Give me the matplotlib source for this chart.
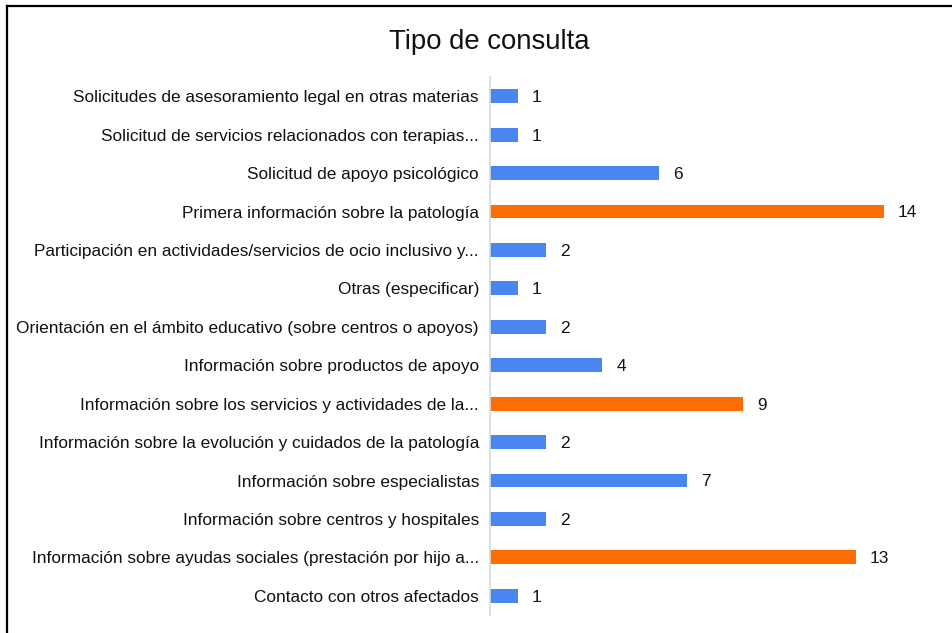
import matplotlib.pyplot as plt
from matplotlib.lines import Line2D

# Tipo de consulta - horizontal bar chart

categorias = [
    "Solicitudes de asesoramiento legal en otras materias",
    "Solicitud de servicios relacionados con terapias...",
    "Solicitud de apoyo psicológico",
    "Primera información sobre la patología",
    "Participación en actividades/servicios de ocio inclusivo y...",
    "Otras (especificar)",
    "Orientación en el ámbito educativo (sobre centros o apoyos)",
    "Información sobre productos de apoyo",
    "Información sobre los servicios y actividades de la...",
    "Información sobre la evolución y cuidados de la patología",
    "Información sobre especialistas",
    "Información sobre centros y hospitales",
    "Información sobre ayudas sociales (prestación por hijo a...",
    "Contacto con otros afectados",
]
valores = [1, 1, 6, 14, 2, 1, 2, 4, 9, 2, 7, 2, 13, 1]
destacados = [False, False, False, True, False, False, False, False, True, False, False, False, True, False]

azul = "#4a86f0"
naranja = "#ff6d00"

plt.rcParams['font.family'] = ['Liberation Sans', 'DejaVu Sans']

fig = plt.figure(figsize=(9.53, 6.33), dpi=100)
ax = fig.add_axes([490 / 953, 1 - 615 / 633, 450 / 953, (615 - 77) / 633])

pos = list(range(len(categorias)))
colores = [naranja if d else azul for d in destacados]
ax.barh(pos, valores, height=0.36, color=colores)
ax.set_ylim(len(categorias) - 0.5, -0.5)
ax.set_xlim(0, 16)

ax.set_yticks(pos)
ax.set_yticklabels(categorias, fontsize=12.4, color="#111111")
ax.tick_params(axis='y', length=0, pad=8)
ax.set_xticks([])

for s in ['top', 'right', 'bottom']:
    ax.spines[s].set_visible(False)
ax.spines['left'].set_color("#d9d9d9")
ax.spines['left'].set_linewidth(1.2)

for p, v in zip(pos, valores):
    ax.annotate(str(v), (v, p), xytext=(10, -1), textcoords='offset points',
                va='center', ha='left', fontsize=12.4, color="#111111")

fig.text(489 / 953, 1 - 42 / 633, "Tipo de consulta", ha='center', va='center',
         fontsize=19.8, color="#111111")

# borde superior e izquierdo
fig.add_artist(Line2D([7 / 953, 1], [1 - 6 / 633, 1 - 6 / 633], color='black', lw=1.6))
fig.add_artist(Line2D([7 / 953, 7 / 953], [0, 1 - 6 / 633], color='black', lw=1.6))

fig.savefig("out.png", dpi=100)
plt.close("all")
